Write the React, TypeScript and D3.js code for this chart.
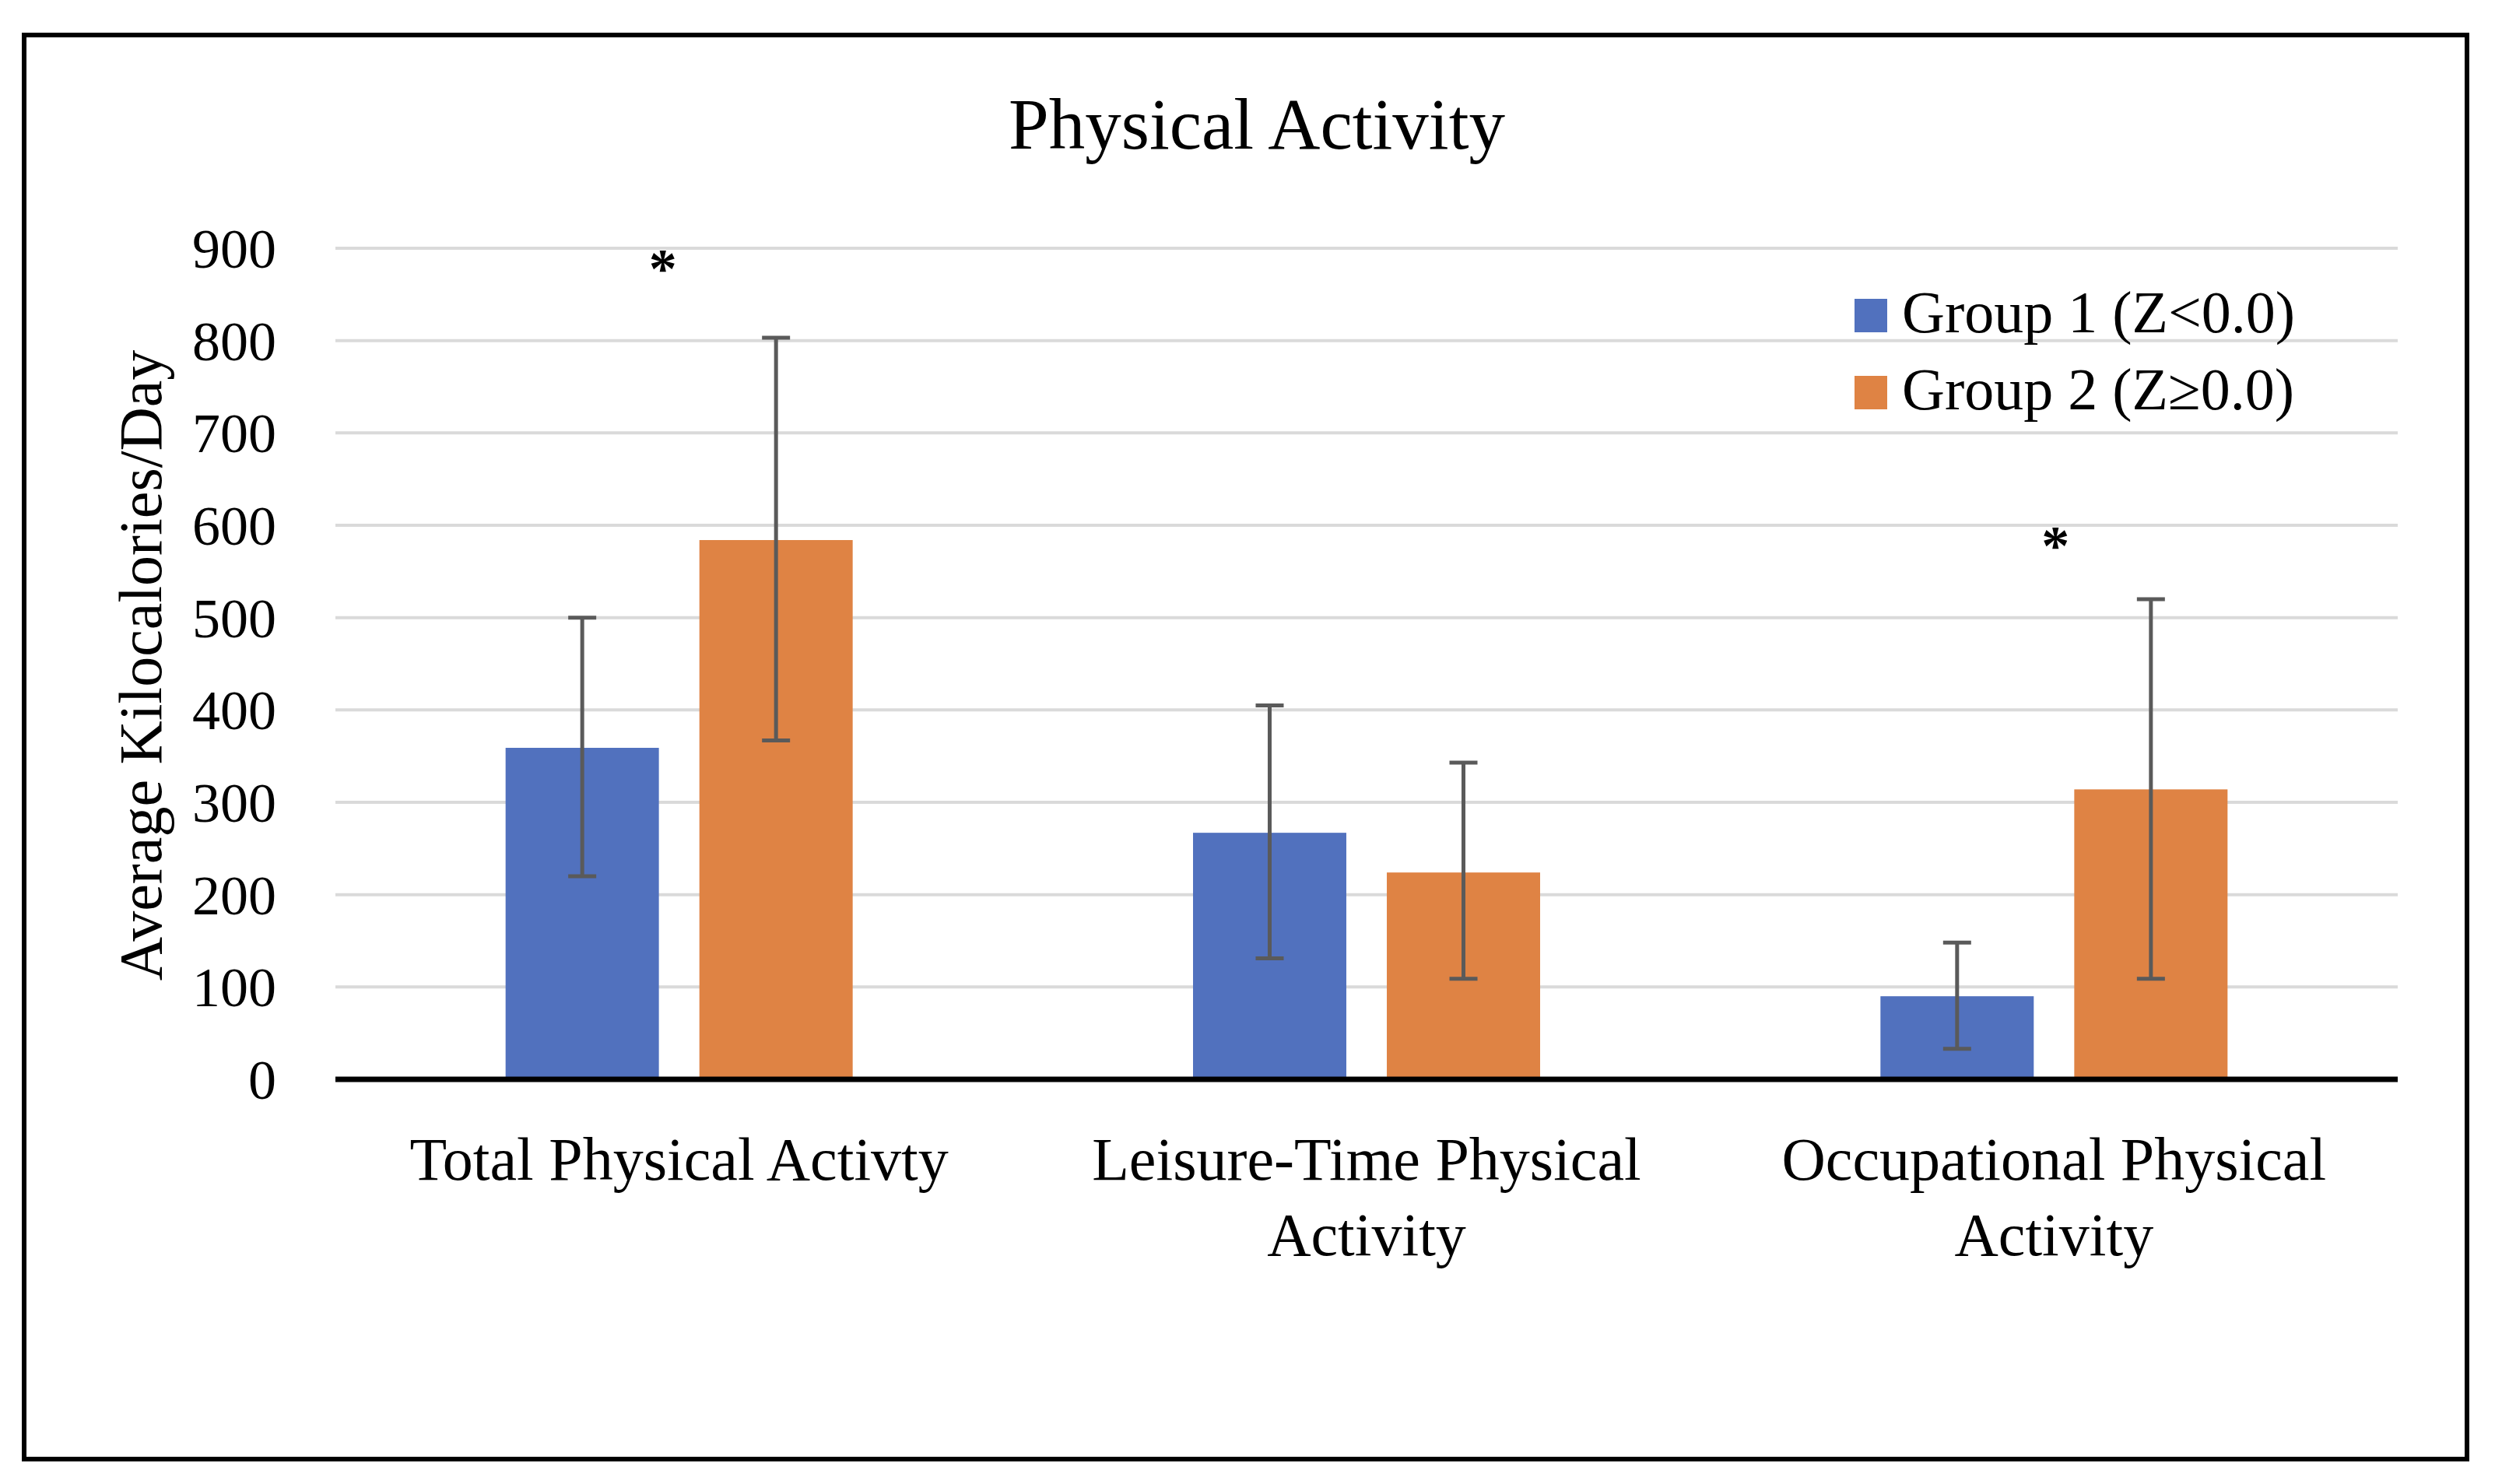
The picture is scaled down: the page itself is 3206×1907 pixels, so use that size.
import React from "react";
import * as d3 from "d3";

const categories = [
  ["Total Physical Activty"],
  ["Leisure-Time Physical", "Activity"],
  ["Occupational Physical", "Activity"],
];
const categoryKeys = ["Total", "Leisure", "Occupational"];
const seriesNames = ["Group 1 (Z<0.0)", "Group 2 (Z\u22650.0)"];
const seriesColors = ["#5171BE", "#DF8344"];
const group1Means = [359, 267, 90];
const group2Means = [584, 224, 314];
const group1Upper = [500, 405, 148];
const group1Lower = [220, 131, 33];
const group2Upper = [803, 343, 520];
const group2Lower = [367, 109, 109];
const yTicks = [0, 100, 200, 300, 400, 500, 600, 700, 800, 900];
const significance = [
  { category: "Total", value: 888, dx: -21 },
  { category: "Occupational", value: 588, dx: 2 },
];

const W = 3206;
const H = 1907;
const FONT = "'Liberation Serif', 'Times New Roman', serif";

export default function App() {
  const left = 431;
  const right = 3081;
  const top = 319;
  const bottom = 1387;

  const y = d3.scaleLinear().domain([0, 900]).range([bottom, top]);
  const x0 = d3.scaleBand<string>().domain(categoryKeys).range([left, right]).padding(0);
  const pairWidth = 446;
  const x1 = d3
    .scaleBand<number>()
    .domain([0, 1])
    .range([0, pairWidth])
    .paddingInner(0.209)
    .paddingOuter(0);
  const pairOffset = (x0.bandwidth() - pairWidth) / 2;

  const means = [group1Means, group2Means];
  const uppers = [group1Upper, group2Upper];
  const lowers = [group1Lower, group2Lower];
  const capHalf = 18;

  return (
    <svg width={W} height={H} style={{ display: "block", position: "absolute", left: 0, top: 0 }}>
      <rect x={0} y={0} width={W} height={H} fill="#fff" />
      <rect x={31} y={45} width={3139} height={1830} fill="#fff" stroke="#000" strokeWidth={6} />

      <text x={1615} y={191} textAnchor="middle" fontFamily={FONT} fontSize={93} fill="#000">
        Physical Activity
      </text>

      {yTicks.map((t) =>
        t === 0 ? null : (
          <line key={"g" + t} x1={left} x2={right} y1={y(t)} y2={y(t)} stroke="#dadada" strokeWidth={4} />
        )
      )}

      {yTicks.map((t) => (
        <text
          key={"t" + t}
          x={355}
          y={y(t) + 25}
          textAnchor="end"
          fontFamily={FONT}
          fontSize={72}
          fill="#000"
        >
          {t}
        </text>
      ))}

      <text
        transform={`translate(207, ${855}) rotate(-90)`}
        textAnchor="middle"
        fontFamily={FONT}
        fontSize={78}
        fill="#000"
      >
        Average Kilocalories/Day
      </text>

      {categoryKeys.map((c, ci) => (
        <g key={c} transform={`translate(${(x0(c) as number) + pairOffset},0)`}>
          {[0, 1].map((s) => {
            const bx = x1(s) as number;
            const bw = x1.bandwidth();
            return (
              <rect
                key={s}
                x={bx}
                y={y(means[s][ci])}
                width={bw}
                height={y(0) - y(means[s][ci])}
                fill={seriesColors[s]}
              />
            );
          })}
        </g>
      ))}

      <line x1={left} x2={right} y1={y(0)} y2={y(0)} stroke="#000" strokeWidth={7} />

      {categoryKeys.map((c, ci) => (
        <g key={"e" + c} transform={`translate(${(x0(c) as number) + pairOffset},0)`}>
          {[0, 1].map((s) => {
            const cx = (x1(s) as number) + x1.bandwidth() / 2;
            const yu = y(uppers[s][ci]);
            const yl = y(lowers[s][ci]);
            return (
              <g key={s} stroke="#5a5a5a" strokeWidth={5}>
                <line x1={cx} x2={cx} y1={yu} y2={yl} />
                <line x1={cx - capHalf} x2={cx + capHalf} y1={yu} y2={yu} />
                <line x1={cx - capHalf} x2={cx + capHalf} y1={yl} y2={yl} />
              </g>
            );
          })}
        </g>
      ))}

      {significance.map((a, i) => (
        <text
          key={"s" + i}
          x={(x0(a.category) as number) + x0.bandwidth() / 2 + a.dx}
          y={y(a.value) + 36}
          textAnchor="middle"
          fontFamily={FONT}
          fontSize={72}
          fontWeight="bold"
          fill="#000"
        >
          *
        </text>
      ))}

      {categories.map((lines, ci) => (
        <text
          key={"c" + ci}
          textAnchor="middle"
          fontFamily={FONT}
          fontSize={78}
          fill="#000"
        >
          {lines.map((ln, li) => (
            <tspan key={li} x={(x0(categoryKeys[ci]) as number) + x0.bandwidth() / 2} y={1516 + li * 97}>
              {ln}
            </tspan>
          ))}
        </text>
      ))}

      {seriesNames.map((name, i) => (
        <g key={"l" + i}>
          <rect x={2383} y={384 + i * 99} width={42} height={43} fill={seriesColors[i]} />
          <text x={2444} y={427 + i * 99} fontFamily={FONT} fontSize={76} fill="#000">
            {name}
          </text>
        </g>
      ))}
    </svg>
  );
}
